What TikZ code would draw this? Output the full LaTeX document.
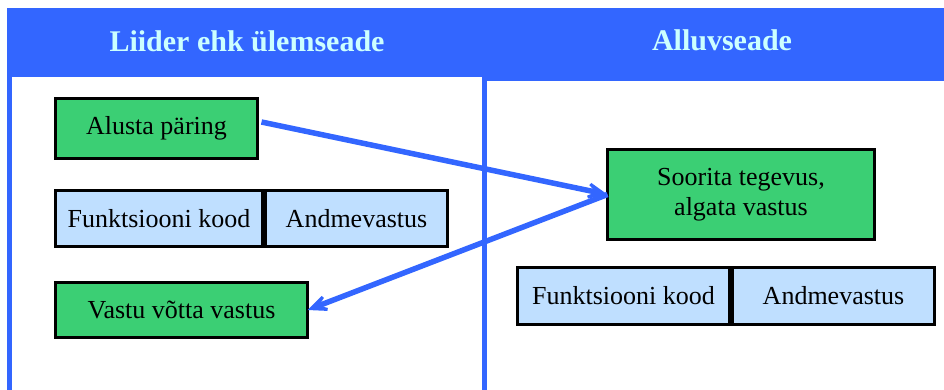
\documentclass[tikz,border=0pt]{standalone}
\usepackage{fontspec}
\setmainfont{Liberation Serif}
\usetikzlibrary{arrows.meta}
\definecolor{hdrblue}{RGB}{51,102,255}
\definecolor{hdrtext}{RGB}{204,255,255}
\definecolor{boxgreen}{RGB}{59,207,116}
\definecolor{fieldblue}{RGB}{191,223,255}
\begin{document}
\begin{tikzpicture}[x=1pt,y=-1pt,
  htext/.style={text=hdrtext,font=\fontsize{30}{36}\selectfont\bfseries},
  greenbox/.style={draw=black,line width=3pt,fill=boxgreen,inner sep=0pt,outer sep=0pt,font=\fontsize{26}{30}\selectfont,align=center},
  fieldbox/.style={draw=black,line width=3pt,fill=fieldblue,inner sep=0pt,outer sep=0pt,font=\fontsize{26}{30}\selectfont},
  panelline/.style={draw=hdrblue,line width=5pt},
  flow/.style={draw=hdrblue,line width=5.5pt,-{Stealth[length=32pt,width=28pt,inset=20pt]}}
]
\useasboundingbox (0,0) rectangle (944,390);
% headers
\fill[hdrblue] (7,8) rectangle (485,77);
\fill[hdrblue] (485,8) rectangle (944,81);
\draw[panelline] (9.5,75) -- (9.5,390);
\draw[panelline] (484.5,75) -- (484.5,390);
\node[htext] (hl) at (247,41) {Liider ehk ülemseade};
\node[htext] (hr) at (722,40) {Alluvseade};
% boxes
\node[greenbox,minimum width=202pt,minimum height=60pt] (alusta) at (156.5,128.5) {Alusta päring};
\node[fieldbox,minimum width=207pt,minimum height=56pt] (fk1) at (159,218.5) {Funktsiooni kood};
\node[fieldbox,minimum width=182pt,minimum height=56pt] (av1) at (356.5,218.5) {Andmevastus};
\node[greenbox,minimum width=252pt,minimum height=55pt] (vastu) at (181.5,310) {Vastu võtta vastus};
\node[greenbox,minimum width=267pt,minimum height=90pt] (soor) at (741,194.5) {Soorita tegevus,\\algata vastus};
\node[fieldbox,minimum width=212pt,minimum height=57pt] (fk2) at (623.5,296) {Funktsiooni kood};
\node[fieldbox,minimum width=202pt,minimum height=57pt] (av2) at (833.5,296) {Andmevastus};
% arrows
\draw[flow] ([xshift=4pt,yshift=6.5pt]alusta.east) -- (soor.west);
\draw[flow] (soor.west) -- (vastu.east);
\end{tikzpicture}
\end{document}
